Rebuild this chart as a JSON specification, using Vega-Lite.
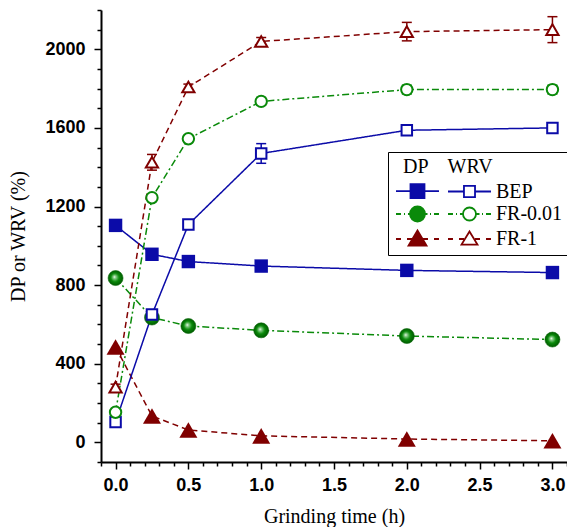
{
  "$schema": "https://vega.github.io/schema/vega-lite/v6.json",
  "autosize": {"type": "none"},
  "padding": {"left": 101, "top": 10, "right": 0, "bottom": 65},
  "width": 466,
  "height": 452,
  "background": "white",
  "config": {"view": {"stroke": null}},
  "datasets": {
    "pts": [
      {"s": "BEP", "m": "DP", "t": 0, "v": 1104},
      {"s": "BEP", "m": "DP", "t": 0.25, "v": 957},
      {"s": "BEP", "m": "DP", "t": 0.5, "v": 920},
      {"s": "BEP", "m": "DP", "t": 1, "v": 897},
      {"s": "BEP", "m": "DP", "t": 2, "v": 875},
      {"s": "BEP", "m": "DP", "t": 3, "v": 864},
      {"s": "FR-0.01", "m": "DP", "t": 0, "v": 836},
      {"s": "FR-0.01", "m": "DP", "t": 0.25, "v": 635},
      {"s": "FR-0.01", "m": "DP", "t": 0.5, "v": 592},
      {"s": "FR-0.01", "m": "DP", "t": 1, "v": 570},
      {"s": "FR-0.01", "m": "DP", "t": 2, "v": 541},
      {"s": "FR-0.01", "m": "DP", "t": 3, "v": 523},
      {"s": "FR-1", "m": "DP", "t": 0, "v": 485},
      {"s": "FR-1", "m": "DP", "t": 0.25, "v": 134},
      {"s": "FR-1", "m": "DP", "t": 0.5, "v": 63},
      {"s": "FR-1", "m": "DP", "t": 1, "v": 33},
      {"s": "FR-1", "m": "DP", "t": 2, "v": 17},
      {"s": "FR-1", "m": "DP", "t": 3, "v": 8},
      {"s": "BEP", "m": "WRV", "t": 0, "v": 103, "lo": 93, "hi": 113},
      {"s": "BEP", "m": "WRV", "t": 0.25, "v": 650, "lo": 635, "hi": 665},
      {"s": "BEP", "m": "WRV", "t": 0.5, "v": 1108, "lo": 1090, "hi": 1126},
      {"s": "BEP", "m": "WRV", "t": 1, "v": 1470, "lo": 1420, "hi": 1520},
      {"s": "BEP", "m": "WRV", "t": 2, "v": 1588, "lo": 1568, "hi": 1608},
      {"s": "BEP", "m": "WRV", "t": 3, "v": 1600, "lo": 1580, "hi": 1620},
      {"s": "FR-0.01", "m": "WRV", "t": 0, "v": 153, "lo": 150, "hi": 156},
      {"s": "FR-0.01", "m": "WRV", "t": 0.25, "v": 1245, "lo": 1233, "hi": 1257},
      {"s": "FR-0.01", "m": "WRV", "t": 0.5, "v": 1545, "lo": 1530, "hi": 1560},
      {"s": "FR-0.01", "m": "WRV", "t": 1, "v": 1735, "lo": 1715, "hi": 1755},
      {"s": "FR-0.01", "m": "WRV", "t": 2, "v": 1795, "lo": 1773, "hi": 1817},
      {"s": "FR-0.01", "m": "WRV", "t": 3, "v": 1795, "lo": 1773, "hi": 1817},
      {"s": "FR-1", "m": "WRV", "t": 0, "v": 281, "lo": 266, "hi": 296},
      {"s": "FR-1", "m": "WRV", "t": 0.25, "v": 1425, "lo": 1385, "hi": 1465},
      {"s": "FR-1", "m": "WRV", "t": 0.5, "v": 1808, "lo": 1793, "hi": 1823},
      {"s": "FR-1", "m": "WRV", "t": 1, "v": 2040, "lo": 2020, "hi": 2060},
      {"s": "FR-1", "m": "WRV", "t": 2, "v": 2090, "lo": 2043, "hi": 2137},
      {"s": "FR-1", "m": "WRV", "t": 3, "v": 2100, "lo": 2034, "hi": 2166}
    ]
  },
  "data": {"name": "pts"},
  "encoding": {
    "x": {
      "field": "t", "type": "quantitative",
      "scale": {"domain": [-0.1, 3.1], "nice": false, "zero": false},
      "axis": {
        "title": "Grinding time (h)",
        "values": [-0.1,0,0.1,0.2,0.3,0.4,0.5,0.6,0.7,0.8,0.9,1,1.1,1.2,1.3,1.4,1.5,1.6,1.7,1.8,1.9,2,2.1,2.2,2.3,2.4,2.5,2.6,2.7,2.8,2.9,3,3.1],
        "labelExpr": "round(datum.value*10)%5===0 && datum.value>=0 ? format(datum.value,'.1f') : ''",
        "tickSize": {"condition": {"test": "round(datum.value*10)%5===0", "value": 7}, "value": 4},
        "labelOverlap": false, "labelFlush": false,
        "grid": false,
        "domainColor": "black", "domainWidth": 2, "tickColor": "black", "tickWidth": 1.5,
        "labelFont": "Liberation Sans", "labelFontWeight": "bold", "labelFontSize": 18, "labelColor": "black", "labelPadding": 7,
        "titleFont": "Liberation Serif", "titleFontWeight": "normal", "titleFontSize": 20, "titleColor": "black", "titlePadding": 12
      }
    },
    "y": {
      "field": "v", "type": "quantitative",
      "scale": {"domain": [-100, 2200], "nice": false, "zero": false},
      "axis": {
        "title": "DP or WRV (%)",
        "values": [-100,0,100,200,300,400,500,600,700,800,900,1000,1100,1200,1300,1400,1500,1600,1700,1800,1900,2000,2100,2200],
        "labelExpr": "datum.value%400===0 && datum.value>=0 ? datum.value : ''",
        "tickSize": {"condition": {"test": "datum.value%400===0", "value": 7}, "value": 4},
        "labelOverlap": false, "labelFlush": false,
        "grid": false,
        "domainColor": "black", "domainWidth": 2, "tickColor": "black", "tickWidth": 1.5,
        "labelFont": "Liberation Sans", "labelFontWeight": "bold", "labelFontSize": 18, "labelColor": "black", "labelPadding": 9,
        "titleFont": "Liberation Serif", "titleFontWeight": "normal", "titleFontSize": 20, "titleColor": "black", "titlePadding": 16
      }
    }
  },
  "layer": [
    {
      "mark": {"type": "line", "strokeWidth": 1.5},
      "encoding": {
        "color": {"field": "s", "type": "nominal", "scale": {"domain": ["BEP", "FR-0.01", "FR-1"], "range": ["#0b0ba8", "#0a8a0a", "#800000"]}, "legend": null},
        "strokeDash": {"field": "s", "type": "nominal", "scale": {"domain": ["BEP", "FR-0.01", "FR-1"], "range": [[1, 0], [7, 3, 2, 3], [6, 4]]}, "legend": null},
        "detail": {"field": "m"},
        "order": {"field": "t"}
      }
    },
    {
      "transform": [{"filter": "datum.m === 'WRV'"}],
      "mark": {"type": "rule", "strokeWidth": 1.5},
      "encoding": {
        "y": {"field": "lo", "type": "quantitative"},
        "y2": {"field": "hi"},
        "color": {"field": "s", "type": "nominal", "legend": null}
      }
    },
    {
      "transform": [{"filter": "datum.m === 'WRV'"}],
      "mark": {"type": "tick", "orient": "horizontal", "size": 10, "thickness": 1.5, "opacity": 1},
      "encoding": {
        "y": {"field": "lo", "type": "quantitative"},
        "color": {"field": "s", "type": "nominal", "legend": null}
      }
    },
    {
      "transform": [{"filter": "datum.m === 'WRV'"}],
      "mark": {"type": "tick", "orient": "horizontal", "size": 10, "thickness": 1.5, "opacity": 1},
      "encoding": {
        "y": {"field": "hi", "type": "quantitative"},
        "color": {"field": "s", "type": "nominal", "legend": null}
      }
    },
    {
      "transform": [{"filter": "datum.m === 'DP' && datum.s !== 'FR-0.01'"}],
      "mark": {"type": "point", "filled": true, "opacity": 1, "strokeWidth": 0},
      "encoding": {
        "color": {"field": "s", "type": "nominal", "legend": null},
        "shape": {"field": "s", "type": "nominal", "scale": {"domain": ["BEP", "FR-1"], "range": ["square", "triangle-up"]}, "legend": null},
        "size": {"field": "s", "type": "nominal", "scale": {"domain": ["BEP", "FR-1"], "range": [180, 324]}, "legend": null}
      }
    },
    {
      "transform": [{"filter": "datum.m === 'DP' && datum.s === 'FR-0.01'"}],
      "mark": {"type": "point", "shape": "circle", "size": 225, "opacity": 1, "strokeWidth": 0.6, "stroke": "#0a6a0a",
        "fill": {"gradient": "radial", "x1": 0.42, "y1": 0.42, "r1": 0, "x2": 0.5, "y2": 0.5, "r2": 0.5,
          "stops": [{"offset": 0, "color": "#ffffff"}, {"offset": 0.18, "color": "#8fd08f"}, {"offset": 0.55, "color": "#0a8a0a"}, {"offset": 1, "color": "#005a00"}]}}
    },
    {
      "transform": [{"filter": "datum.m === 'WRV'"}],
      "mark": {"type": "point", "filled": false, "fill": "white", "opacity": 1, "strokeWidth": 2},
      "encoding": {
        "color": {"field": "s", "type": "nominal", "legend": null},
        "shape": {"field": "s", "type": "nominal", "scale": {"domain": ["BEP", "FR-0.01", "FR-1"], "range": ["square", "circle", "triangle-up"]}, "legend": null},
        "size": {"field": "s", "type": "nominal", "scale": {"domain": ["BEP", "FR-0.01", "FR-1"], "range": [110, 150, 210]}, "legend": null}
      }
    },
    {
      "transform": [{"filter": "false"}],
      "mark": {"type": "point", "filled": true, "opacity": 1, "strokeWidth": 1.8,
        "fill": {"expr": "indexof(''+datum.value,'WRV')>=0 ? '#ffffff' : indexof(''+datum.value,'BEP')>=0 ? '#0b0ba8' : indexof(''+datum.value,'FR-0.01')>=0 ? '#0a8a0a' : '#800000'"},
        "stroke": {"expr": "indexof(''+datum.value,'BEP')>=0 ? '#0b0ba8' : indexof(''+datum.value,'FR-0.01')>=0 ? '#0a8a0a' : '#800000'"}},
      "encoding": {
        "x": {"value": 0}, "y": {"value": 0},
        "shape": {"field": "key", "type": "nominal",
          "scale": {"domain": ["BEP DP", "BEP WRV", "FR-0.01 DP", "FR-0.01 WRV", "FR-1 DP", "FR-1 WRV"],
            "range": [
              "M-1,0H1.07M3.07,0H5.14M1.07,-1H3.07V1H1.07Z",
              "M-1,0H1.28M2.86,0H5.14M1.28,-0.79H2.86V0.79H1.28Z",
              "M-1,0H-0.29M0.14,0H0.29M0.71,0H1M3.14,0H3.5M3.86,0H4M4.43,0H5.14M3.14,0A1.07,1.07,0,1,1,1,0A1.07,1.07,0,1,1,3.14,0Z",
              "M-1,0H-0.29M0.14,0H0.29M0.71,0H1.14M3,0H3.5M3.86,0H4M4.43,0H5.14M3,0A0.93,0.93,0,1,1,1.14,0A0.93,0.93,0,1,1,3,0Z",
              "M-1,0H-0.29M0.57,0H1.29M2.86,0H3.57M4.43,0H5.14M2.07,-1.21L3.36,0.93H0.79Z",
              "M-1,0H-0.29M0.57,0H1.29M2.86,0H3.57M4.43,0H5.14M2.07,-1.07L3.21,0.79H0.93Z"
            ]},
          "legend": {
            "orient": "none", "legendX": 287, "legendY": 142,
            "columns": 2, "direction": "horizontal",
            "title": "\u200b\u00a0\u00a0DP\u00a0\u00a0\u00a0\u2009WRV",
            "titleFont": "Liberation Serif", "titleFontSize": 20, "titleFontWeight": "normal", "titleColor": "black", "titlePadding": 4,
            "labelFont": "Liberation Serif", "labelFontSize": 20, "labelColor": "black", "labelOffset": 31, "labelLimit": 200,
            "labelExpr": "indexof(datum.label,' WRV')>=0 ? replace(datum.label,' WRV','') : ''",
            "symbolSize": 196, "symbolStrokeWidth": 1.8, "symbolOpacity": 1,
            "rowPadding": 0, "columnPadding": 0,
            "padding": 5, "strokeColor": "black", "fillColor": "white"
          }
        }
      }
    }
  ],
  "resolve": {"scale": {"shape": "independent", "size": "independent"}}
}
